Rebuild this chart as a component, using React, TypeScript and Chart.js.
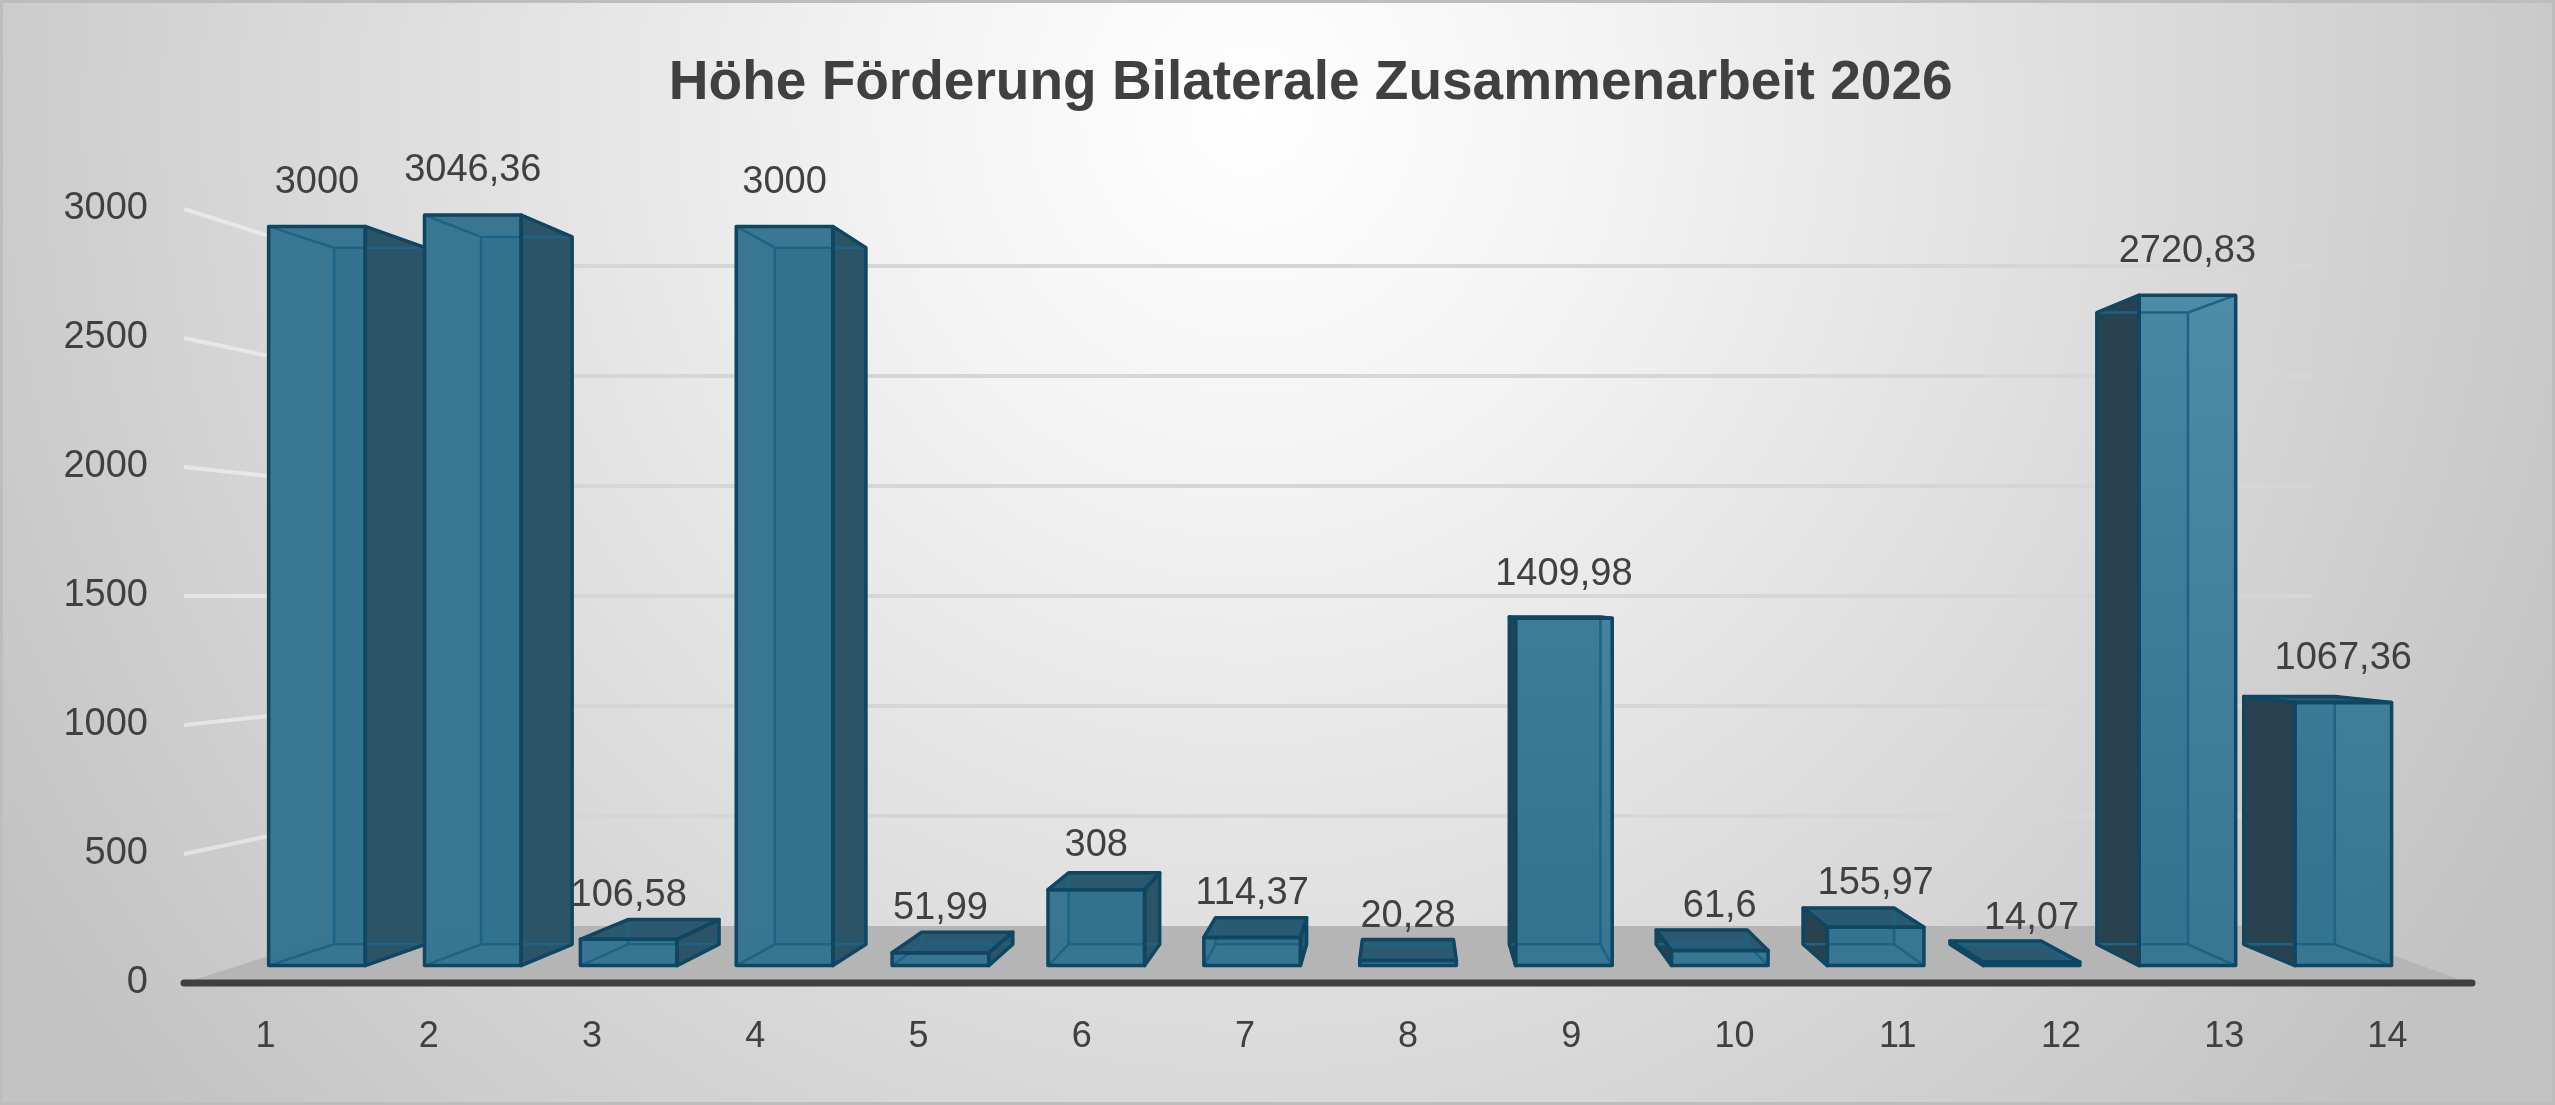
import { useEffect, useRef } from 'react';
import { Chart, BarController, BarElement, CategoryScale, LinearScale } from 'chart.js';

Chart.register(BarController, BarElement, CategoryScale, LinearScale);

const TITLE = 'Höhe Förderung Bilaterale Zusammenarbeit 2026';
const categories = ['1', '2', '3', '4', '5', '6', '7', '8', '9', '10', '11', '12', '13', '14'];
const amounts = [3000, 3046.36, 106.58, 3000, 51.99, 308, 114.37, 20.28, 1409.98, 61.6, 155.97, 14.07, 2720.83, 1067.36];
const yTicks = [0, 500, 1000, 1500, 2000, 2500, 3000];

const FONT = "'Liberation Sans', Arial, sans-serif";
const TEXT = '#404040';

// fake perspective: depth 0 is the axis plane, 1 would be the vanishing point
const FRONT_T = 0.045;
const BACK_T = 0.1;
const WALL_T = 0.147;

const fmt = new Intl.NumberFormat('de-DE', { useGrouping: false, maximumFractionDigits: 2 });

type Pt = [number, number];

function poly(ctx: CanvasRenderingContext2D, pts: Pt[], fill?: string | CanvasGradient, stroke?: string, lw = 3) {
  ctx.beginPath();
  ctx.moveTo(pts[0][0], pts[0][1]);
  for (let i = 1; i < pts.length; i++) ctx.lineTo(pts[i][0], pts[i][1]);
  ctx.closePath();
  if (fill) { ctx.fillStyle = fill; ctx.fill(); }
  if (stroke) { ctx.strokeStyle = stroke; ctx.lineWidth = lw; ctx.stroke(); }
}

function seg(ctx: CanvasRenderingContext2D, a: Pt, b: Pt) {
  ctx.beginPath();
  ctx.moveTo(a[0], a[1]);
  ctx.lineTo(b[0], b[1]);
  ctx.stroke();
}

function vanish(chart: any) {
  const a = chart.chartArea;
  const vx = a.left + a.width * 0.535;
  const vy = chart.scales.y.getPixelForValue(1500);
  const P = (x: number, y: number, t: number): Pt => [x + (vx - x) * t, y + (vy - y) * t];
  return { vx, vy, P };
}

const box3d = {
  id: 'box3d',
  beforeDatasetsDraw(chart: any) {
    const { ctx, chartArea: a, scales: { y } } = chart;
    const { P } = vanish(chart);
    const y0 = y.getPixelForValue(0);
    ctx.save();

    // floor
    poly(ctx, [[a.left, y0], [a.right, y0], P(a.right, y0, WALL_T), P(a.left, y0, WALL_T)], '#b5b5b5');

    // grid on back wall + side wall
    ctx.lineCap = 'butt';
    for (const v of yTicks) {
      if (v === 0) continue;
      const yv = y.getPixelForValue(v);
      const bl = P(a.left, yv, WALL_T), br = P(a.right, yv, WALL_T);
      ctx.strokeStyle = '#d6d6d6';
      ctx.lineWidth = 4;
      seg(ctx, bl, br);
      ctx.strokeStyle = 'rgba(255,255,255,0.45)';
      seg(ctx, [a.left, yv], bl);
    }

    // axis line
    ctx.strokeStyle = '#404040';
    ctx.lineWidth = 7;
    ctx.lineCap = 'round';
    seg(ctx, [a.left, y0], [a.right + 3, y0]);
    ctx.restore();
  },
  afterDatasetsDraw(chart: any) {
    const { ctx, chartArea: a } = chart;
    const { vx, vy, P } = vanish(chart);
    const bars = chart.getDatasetMeta(0).data;
    const order = bars.map((_: any, i: number) => i)
      .sort((p: number, q: number) => Math.abs(bars[q].x - vx) - Math.abs(bars[p].x - vx));

    // light falls from the upper right
    const lit = ctx.createLinearGradient(0, a.top + 40, 0, a.bottom - 80);
    lit.addColorStop(0, 'rgba(74,138,167,0.97)');
    lit.addColorStop(1, 'rgba(52,116,145,0.97)');

    ctx.save();
    ctx.lineJoin = 'round';
    const tops: Pt[] = [];
    for (const i of order) {
      const { x, y: top, base, width } = bars[i].getProps(['x', 'y', 'base', 'width'], true);
      const l = x - width / 2, r = x + width / 2;
      const f = [P(l, top, FRONT_T), P(r, top, FRONT_T), P(r, base, FRONT_T), P(l, base, FRONT_T)];
      const b = [P(l, top, BACK_T), P(r, top, BACK_T), P(r, base, BACK_T), P(l, base, BACK_T)];

      let side: Pt[] | null = null;
      let sideColor = '#2b5467';
      if (f[1][0] < vx) side = [f[1], b[1], b[2], f[2]];
      else if (f[0][0] > vx) { side = [f[0], b[0], b[3], f[3]]; sideColor = '#28434f'; }
      const topFace: Pt[] | null = f[0][1] > vy ? [f[0], f[1], b[1], b[0]] : null;
      const rightOfEye = f[0][0] > vx;

      poly(ctx, b, '#2e6581');
      if (topFace) poly(ctx, topFace, '#2b5a70');
      if (side) poly(ctx, side, sideColor);
      poly(ctx, f, rightOfEye ? lit : 'rgba(52,115,144,0.97)');

      // edges seen through the glass
      ctx.strokeStyle = '#1c6385';
      ctx.lineWidth = 2.5;
      for (let k = 0; k < 4; k++) {
        seg(ctx, b[k], b[(k + 1) % 4]);
        seg(ctx, f[k], b[k]);
      }
      // outline
      poly(ctx, f, undefined, '#0f4661', 3.5);
      if (side) poly(ctx, side, undefined, '#0f4661', 3.5);
      if (topFace) poly(ctx, topFace, undefined, '#0f4661', 3.5);

      tops[i] = [(f[0][0] + f[1][0]) / 2, f[0][1]];
    }

    // value labels
    ctx.fillStyle = TEXT;
    ctx.font = `38px ${FONT}`;
    ctx.textAlign = 'center';
    ctx.textBaseline = 'middle';
    amounts.forEach((v, i) => {
      ctx.fillText(fmt.format(v), tops[i][0], tops[i][1] - 44);
    });

    // title
    ctx.font = `bold 55px ${FONT}`;
    ctx.fillText(TITLE, chart.width * 0.513, 84);
    ctx.restore();
  },
};

export default function App() {
  const canvasRef = useRef<HTMLCanvasElement>(null);

  useEffect(() => {
    if (!canvasRef.current) return;
    const chart = new Chart(canvasRef.current, {
      type: 'bar',
      data: {
        labels: categories,
        datasets: [{
          data: amounts,
          backgroundColor: 'rgba(0,0,0,0)',
          borderWidth: 0,
          barPercentage: 0.62,
          categoryPercentage: 1,
        }],
      },
      options: {
        responsive: true,
        maintainAspectRatio: false,
        animation: false,
        layout: { padding: { top: 209, left: 64, right: 86, bottom: 22 } },
        plugins: { legend: { display: false }, tooltip: { enabled: false } },
        scales: {
          x: {
            grid: { display: false, drawTicks: false },
            border: { display: false },
            ticks: { color: TEXT, font: { family: FONT, size: 36 }, padding: 32 },
            afterFit: (s: any) => { s.height = 100; },
          },
          y: {
            min: 0,
            max: 3000,
            grid: { display: false, drawTicks: false },
            border: { display: false },
            ticks: {
              stepSize: 500,
              color: TEXT,
              font: { family: FONT, size: 38 },
              padding: 36,
              callback: (v: any) => String(v),
            },
            afterFit: (s: any) => { s.width = 120; },
          },
        },
      },
      plugins: [box3d],
    } as any);
    return () => { chart.destroy(); };
  }, []);

  return (
    <div style={{
      position: 'fixed', left: 0, top: 0, width: 2555, height: 1105,
      background: 'radial-gradient(ellipse 1450px 1500px at 1250px 110px, #ffffff 0%, #f3f3f3 25%, #c3c3c3 100%)',
      boxShadow: 'inset 0 0 0 3px #bdbdbd',
    }}>
      <canvas ref={canvasRef} />
    </div>
  );
}
